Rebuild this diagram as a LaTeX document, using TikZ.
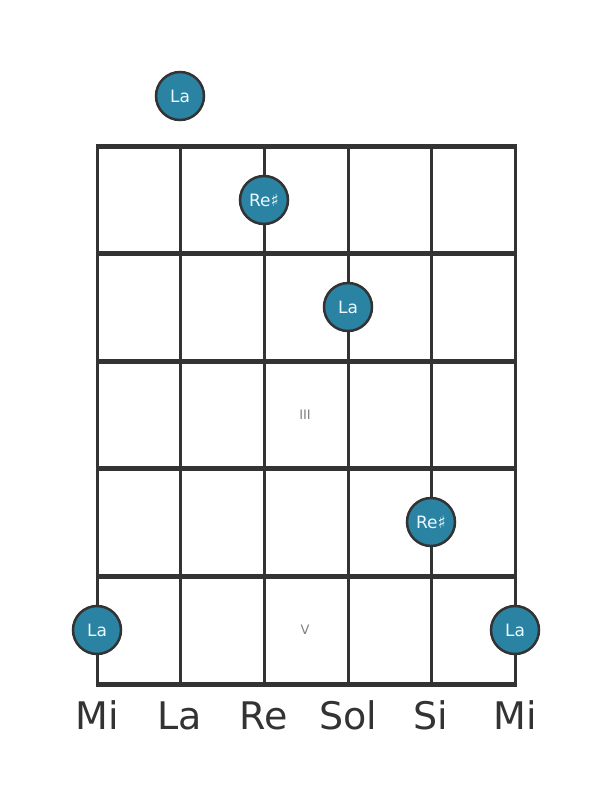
\documentclass[tikz,border=0pt]{standalone}
\usepackage{fontspec}
\setmainfont{DejaVu Sans}
\definecolor{linec}{HTML}{333333}
\definecolor{dotc}{HTML}{2A83A2}
\definecolor{dottext}{HTML}{EAF8FF}
\definecolor{numc}{HTML}{808080}
\begin{document}
\begin{tikzpicture}[x=1pt,y=-1pt,
  fret/.style={draw=linec,line width=5pt},
  strg/.style={draw=linec,line width=3pt},
  dot/.style={circle,draw=linec,line width=2.5pt,fill=dotc,minimum size=48pt,inner sep=0pt,text=dottext,font=\fontsize{17}{17}\selectfont},
  strname/.style={text=linec,font=\fontsize{38}{38}\selectfont,anchor=base},
  roman/.style={text=numc,font=\fontsize{13}{13}\selectfont}]
\fill[white] (0,0) rectangle (611,801);
\useasboundingbox (0,0) rectangle (611,801);
\foreach \x/\n in {97/s1,180/s2,264/s3,348/s4,431/s5,515/s6}{
  \coordinate (\n t) at (\x,146);
  \coordinate (\n b) at (\x,684);
  \draw[strg] (\n t) -- (\n b);
}
\foreach \y/\n in {146/f0,253/f1,361/f2,468/f3,576/f4,684/f5}{
  \coordinate (\n l) at (95.5,\y);
  \coordinate (\n r) at (516.5,\y);
  \draw[fret] (\n l) -- (\n r);
}
\node[roman] (r3) at (305,415) {III};
\node[roman] (r5) at (305,630) {V};
\node[dot] (d1) at (180,96) {La};
\node[dot] (d2) at (264,200) {Re♯};
\node[dot] (d3) at (348,307) {La};
\node[dot] (d4) at (431,522) {Re♯};
\node[dot] (d5) at (97,630) {La};
\node[dot] (d6) at (515,630) {La};
\node[strname] (n1) at (97,729) {Mi};
\node[strname] (n2) at (180,729) {La};
\node[strname] (n3) at (264,729) {Re};
\node[strname] (n4) at (348,729) {Sol};
\node[strname] (n5) at (431,729) {Si};
\node[strname] (n6) at (515,729) {Mi};
\end{tikzpicture}
\end{document}
